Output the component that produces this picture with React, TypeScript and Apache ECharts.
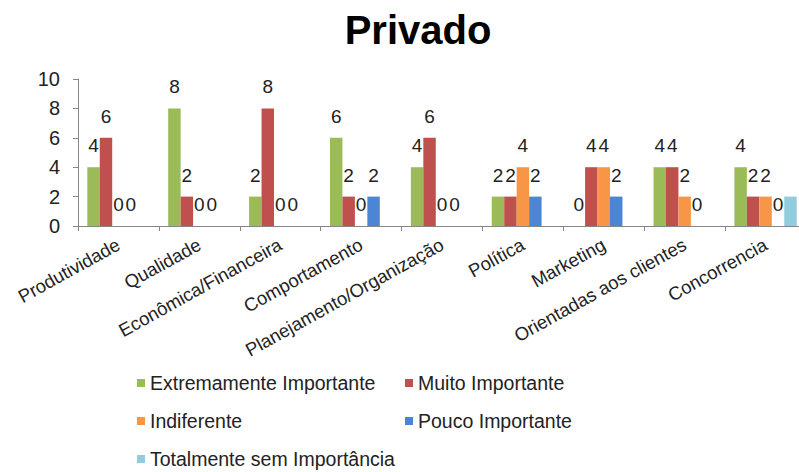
import React, { useEffect, useRef } from "react";
import * as echarts from "echarts";

const categories = [
  "Produtividade",
  "Qualidade",
  "Econômica/Financeira",
  "Comportamento",
  "Planejamento/Organização",
  "Política",
  "Marketing",
  "Orientadas aos clientes",
  "Concorrencia",
];

const seriesNames = [
  "Extremamente Importante",
  "Muito Importante",
  "Indiferente",
  "Pouco Importante",
  "Totalmente sem Importância",
];

const extremamente = [4, 8, 2, 6, 4, 2, 0, 4, 4];
const muito = [6, 2, 8, 2, 6, 2, 4, 4, 2];
const indiferente = [0, 0, 0, 0, 0, 4, 4, 2, 2];
const pouco = [0, 0, 0, 2, 0, 2, 2, 0, 0];
const totalmente = [null, null, null, null, null, null, null, null, 2];

const yTicks = { min: 0, max: 10, interval: 2 };

const colors = ["#9BBB59", "#C0504D", "#F79646", "#4A86D4", "#93CDDD"];

const FONT = "'Liberation Sans', Arial, sans-serif";

export default function App() {
  const ref = useRef<HTMLDivElement>(null);
  useEffect(() => {
    if (!ref.current) return;
    const chart = echarts.init(ref.current, null, { renderer: "svg" });
    const values = [extremamente, muito, indiferente, pouco, totalmente];
    const labelStyle = {
      show: true,
      position: "top",
      distance: 12,
      fontSize: 19,
      color: "#222",
      fontFamily: FONT,
    };
    const legendCommon = {
      orient: "horizontal",
      itemWidth: 8,
      itemHeight: 8,
      icon: "rect",
      padding: 0,
      selectedMode: false,
      textStyle: { fontSize: 19.5, color: "#222", fontFamily: FONT, lineHeight: 20 },
    };
    const legendPos = [
      { left: 137, top: 373 },
      { left: 405, top: 373 },
      { left: 137, top: 411 },
      { left: 405, top: 411 },
      { left: 137, top: 449 },
    ];
    chart.setOption({
      animation: false,
      backgroundColor: "#fff",
      color: colors,
      title: {
        text: "Privado",
        left: 413,
        textAlign: "center",
        top: 5,
        textStyle: { fontSize: 40, fontWeight: "bold", color: "#000", fontFamily: FONT },
      },
      legend: seriesNames.map((name, i) => ({
        ...legendCommon,
        ...legendPos[i],
        data: [name],
      })),
      grid: {
        left: 78,
        right: -7,
        top: 79,
        bottom: 246,
        containLabel: false,
        outerBoundsMode: "none",
      },
      xAxis: {
        type: "category",
        data: categories,
        axisLine: { lineStyle: { color: "#868686", width: 1 } },
        axisTick: { show: true, length: 5, lineStyle: { color: "#868686" } },
        axisLabel: {
          interval: 0,
          rotate: 29,
          margin: 17,
          fontSize: 18.5,
          color: "#222",
          fontFamily: FONT,
        },
      },
      yAxis: {
        type: "value",
        min: yTicks.min,
        max: yTicks.max,
        interval: yTicks.interval,
        splitLine: { show: false },
        axisLine: { show: true, lineStyle: { color: "#868686", width: 1 } },
        axisTick: { show: true, length: 5, lineStyle: { color: "#868686" } },
        axisLabel: { fontSize: 20, color: "#222", margin: 18, fontFamily: FONT },
      },
      series: seriesNames.map((name, i) => ({
        name,
        type: "bar",
        data: values[i],
        barGap: "0%",
        barCategoryGap: "23%",
        label: { ...labelStyle, show: i < 4 },
      })),
    });
    return () => chart.dispose();
  }, []);
  return (
    <div
      ref={ref}
      style={{ position: "fixed", left: 0, top: 0, width: 799, height: 472 }}
    />
  );
}
